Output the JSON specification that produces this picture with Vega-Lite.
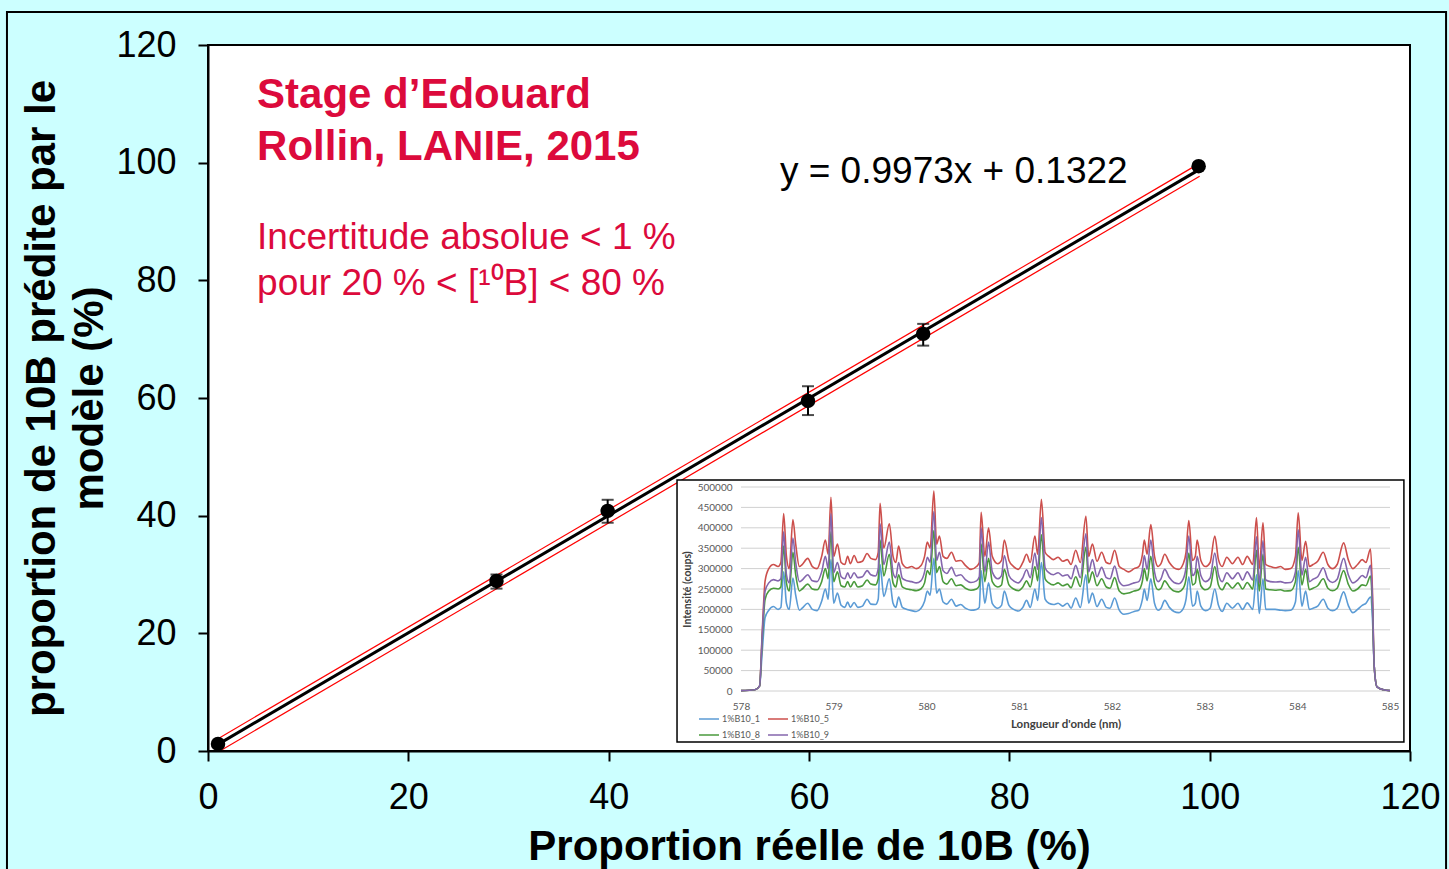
{
"$schema": "https://vega.github.io/schema/vega-lite/v6.json",
"width": 1202, "height": 706,
"autosize": {"type": "none"},
"padding": {"left": 208, "top": 45, "right": 39, "bottom": 118},
"background": "#ccffff",
"config": {"view": {"fill": "white", "stroke": "black", "strokeWidth": 2}, "font": "Liberation Sans"},
"datasets": {
"one": [{"k": 1}],
"pts": [{"x":1,"y":1.2},{"x":28.8,"y":28.9},{"x":39.9,"y":40.8},{"x":59.9,"y":59.5},{"x":71.4,"y":70.9},{"x":98.9,"y":99.4}],
"err": [{"x":28.8,"lo":27.6,"hi":30.0},{"x":39.9,"lo":38.8,"hi":42.7},{"x":59.9,"lo":57.1,"hi":62.0},{"x":71.4,"lo":68.9,"hi":72.6}],
"fit": [{"x":1,"y":1.13},{"x":99,"y":98.86}],
"bands": [{"band":"hi","x":1.0,"y":2.1},{"band":"hi","x":98.3,"y":99.2},{"band":"lo","x":1.4,"y":0.2},{"band":"lo","x":99.0,"y":97.7}],
"grid": [{"g":0},{"g":50000},{"g":100000},{"g":150000},{"g":200000},{"g":250000},{"g":300000},{"g":350000},{"g":400000},{"g":450000},{"g":500000}],
"spec": [
{"wl":578.00,"b1":1000,"b5":1000,"b8":1000,"b9":1000},
{"wl":578.15,"b1":3000,"b5":3000,"b8":3000,"b9":3000},
{"wl":578.20,"b1":12000,"b5":12000,"b8":12000,"b9":12000},
{"wl":578.23,"b1":100000,"b5":150000,"b8":130000,"b9":140000},
{"wl":578.26,"b1":180000,"b5":270000,"b8":225000,"b9":245000},
{"wl":578.30,"b1":198000,"b5":300000,"b8":245000,"b9":265000},
{"wl":578.35,"b1":207000,"b5":310000,"b8":252000,"b9":273000},
{"wl":578.40,"b1":200000,"b5":305000,"b8":250000,"b9":270000},
{"wl":578.43,"b1":205000,"b5":315000,"b8":255000,"b9":275000},
{"wl":578.46,"b1":292000,"b5":435000,"b8":355000,"b9":390000},
{"wl":578.49,"b1":215000,"b5":330000,"b8":265000,"b9":285000},
{"wl":578.52,"b1":200000,"b5":300000,"b8":245000,"b9":265000},
{"wl":578.56,"b1":277000,"b5":420000,"b8":340000,"b9":375000},
{"wl":578.59,"b1":235000,"b5":360000,"b8":285000,"b9":315000},
{"wl":578.63,"b1":198000,"b5":305000,"b8":245000,"b9":268000},
{"wl":578.66,"b1":203000,"b5":310000,"b8":250000,"b9":272000},
{"wl":578.72,"b1":215000,"b5":325000,"b8":262000,"b9":285000},
{"wl":578.77,"b1":200000,"b5":305000,"b8":250000,"b9":270000},
{"wl":578.82,"b1":197000,"b5":300000,"b8":248000,"b9":268000},
{"wl":578.87,"b1":220000,"b5":330000,"b8":268000,"b9":292000},
{"wl":578.91,"b1":250000,"b5":370000,"b8":300000,"b9":330000},
{"wl":578.94,"b1":225000,"b5":335000,"b8":275000,"b9":300000},
{"wl":578.97,"b1":322000,"b5":475000,"b8":390000,"b9":435000},
{"wl":579.00,"b1":215000,"b5":330000,"b8":268000,"b9":290000},
{"wl":579.04,"b1":240000,"b5":360000,"b8":292000,"b9":315000},
{"wl":579.08,"b1":210000,"b5":315000,"b8":258000,"b9":280000},
{"wl":579.12,"b1":205000,"b5":310000,"b8":255000,"b9":275000},
{"wl":579.15,"b1":218000,"b5":330000,"b8":268000,"b9":290000},
{"wl":579.18,"b1":205000,"b5":312000,"b8":255000,"b9":276000},
{"wl":579.22,"b1":217000,"b5":332000,"b8":268000,"b9":290000},
{"wl":579.26,"b1":205000,"b5":315000,"b8":255000,"b9":278000},
{"wl":579.31,"b1":208000,"b5":318000,"b8":258000,"b9":280000},
{"wl":579.36,"b1":225000,"b5":337000,"b8":272000,"b9":295000},
{"wl":579.40,"b1":213000,"b5":325000,"b8":262000,"b9":285000},
{"wl":579.45,"b1":212000,"b5":322000,"b8":260000,"b9":282000},
{"wl":579.48,"b1":225000,"b5":340000,"b8":275000,"b9":300000},
{"wl":579.50,"b1":310000,"b5":460000,"b8":370000,"b9":410000},
{"wl":579.54,"b1":232000,"b5":350000,"b8":282000,"b9":310000},
{"wl":579.60,"b1":275000,"b5":410000,"b8":335000,"b9":365000},
{"wl":579.64,"b1":215000,"b5":330000,"b8":265000,"b9":290000},
{"wl":579.67,"b1":205000,"b5":315000,"b8":255000,"b9":278000},
{"wl":579.70,"b1":230000,"b5":355000,"b8":285000,"b9":315000},
{"wl":579.74,"b1":205000,"b5":312000,"b8":255000,"b9":276000},
{"wl":579.79,"b1":200000,"b5":302000,"b8":250000,"b9":270000},
{"wl":579.84,"b1":197000,"b5":305000,"b8":248000,"b9":268000},
{"wl":579.89,"b1":195000,"b5":300000,"b8":246000,"b9":265000},
{"wl":579.94,"b1":202000,"b5":307000,"b8":250000,"b9":270000},
{"wl":579.98,"b1":220000,"b5":330000,"b8":265000,"b9":292000},
{"wl":580.01,"b1":245000,"b5":365000,"b8":295000,"b9":328000},
{"wl":580.04,"b1":235000,"b5":350000,"b8":285000,"b9":315000},
{"wl":580.08,"b1":325000,"b5":490000,"b8":393000,"b9":440000},
{"wl":580.11,"b1":240000,"b5":360000,"b8":290000,"b9":320000},
{"wl":580.14,"b1":250000,"b5":380000,"b8":305000,"b9":340000},
{"wl":580.18,"b1":218000,"b5":330000,"b8":268000,"b9":295000},
{"wl":580.22,"b1":213000,"b5":325000,"b8":262000,"b9":288000},
{"wl":580.27,"b1":225000,"b5":340000,"b8":275000,"b9":303000},
{"wl":580.32,"b1":208000,"b5":318000,"b8":258000,"b9":282000},
{"wl":580.37,"b1":212000,"b5":320000,"b8":260000,"b9":285000},
{"wl":580.42,"b1":203000,"b5":308000,"b8":252000,"b9":273000},
{"wl":580.48,"b1":198000,"b5":298000,"b8":247000,"b9":266000},
{"wl":580.54,"b1":200000,"b5":305000,"b8":250000,"b9":270000},
{"wl":580.57,"b1":205000,"b5":315000,"b8":258000,"b9":280000},
{"wl":580.59,"b1":295000,"b5":438000,"b8":360000,"b9":400000},
{"wl":580.63,"b1":215000,"b5":330000,"b8":268000,"b9":292000},
{"wl":580.67,"b1":265000,"b5":400000,"b8":325000,"b9":365000},
{"wl":580.71,"b1":215000,"b5":330000,"b8":268000,"b9":292000},
{"wl":580.77,"b1":203000,"b5":312000,"b8":255000,"b9":275000},
{"wl":580.81,"b1":210000,"b5":320000,"b8":260000,"b9":283000},
{"wl":580.84,"b1":245000,"b5":370000,"b8":298000,"b9":332000},
{"wl":580.89,"b1":210000,"b5":320000,"b8":260000,"b9":283000},
{"wl":580.94,"b1":200000,"b5":305000,"b8":250000,"b9":270000},
{"wl":580.99,"b1":196000,"b5":298000,"b8":246000,"b9":265000},
{"wl":581.04,"b1":205000,"b5":315000,"b8":255000,"b9":278000},
{"wl":581.08,"b1":222000,"b5":335000,"b8":270000,"b9":297000},
{"wl":581.12,"b1":205000,"b5":315000,"b8":255000,"b9":278000},
{"wl":581.17,"b1":250000,"b5":380000,"b8":305000,"b9":338000},
{"wl":581.20,"b1":222000,"b5":335000,"b8":270000,"b9":298000},
{"wl":581.24,"b1":315000,"b5":470000,"b8":383000,"b9":425000},
{"wl":581.28,"b1":225000,"b5":340000,"b8":275000,"b9":302000},
{"wl":581.32,"b1":215000,"b5":330000,"b8":265000,"b9":290000},
{"wl":581.37,"b1":212000,"b5":322000,"b8":260000,"b9":285000},
{"wl":581.42,"b1":215000,"b5":328000,"b8":265000,"b9":290000},
{"wl":581.47,"b1":208000,"b5":318000,"b8":258000,"b9":282000},
{"wl":581.52,"b1":215000,"b5":322000,"b8":262000,"b9":285000},
{"wl":581.56,"b1":203000,"b5":310000,"b8":253000,"b9":275000},
{"wl":581.61,"b1":228000,"b5":345000,"b8":280000,"b9":308000},
{"wl":581.66,"b1":205000,"b5":315000,"b8":256000,"b9":278000},
{"wl":581.72,"b1":285000,"b5":428000,"b8":352000,"b9":385000},
{"wl":581.75,"b1":215000,"b5":330000,"b8":265000,"b9":292000},
{"wl":581.79,"b1":240000,"b5":360000,"b8":292000,"b9":322000},
{"wl":581.84,"b1":207000,"b5":318000,"b8":258000,"b9":280000},
{"wl":581.89,"b1":225000,"b5":340000,"b8":275000,"b9":303000},
{"wl":581.94,"b1":205000,"b5":315000,"b8":255000,"b9":278000},
{"wl":581.98,"b1":203000,"b5":312000,"b8":252000,"b9":275000},
{"wl":582.03,"b1":228000,"b5":345000,"b8":278000,"b9":306000},
{"wl":582.08,"b1":198000,"b5":305000,"b8":245000,"b9":268000},
{"wl":582.13,"b1":188000,"b5":298000,"b8":238000,"b9":258000},
{"wl":582.18,"b1":190000,"b5":292000,"b8":240000,"b9":260000},
{"wl":582.24,"b1":195000,"b5":300000,"b8":245000,"b9":265000},
{"wl":582.29,"b1":198000,"b5":305000,"b8":248000,"b9":268000},
{"wl":582.33,"b1":225000,"b5":335000,"b8":270000,"b9":298000},
{"wl":582.35,"b1":250000,"b5":370000,"b8":300000,"b9":332000},
{"wl":582.38,"b1":222000,"b5":335000,"b8":270000,"b9":298000},
{"wl":582.42,"b1":275000,"b5":408000,"b8":330000,"b9":370000},
{"wl":582.46,"b1":215000,"b5":330000,"b8":265000,"b9":292000},
{"wl":582.50,"b1":198000,"b5":305000,"b8":248000,"b9":268000},
{"wl":582.53,"b1":203000,"b5":312000,"b8":252000,"b9":275000},
{"wl":582.57,"b1":222000,"b5":335000,"b8":270000,"b9":298000},
{"wl":582.62,"b1":205000,"b5":315000,"b8":255000,"b9":278000},
{"wl":582.67,"b1":195000,"b5":302000,"b8":245000,"b9":266000},
{"wl":582.72,"b1":192000,"b5":298000,"b8":243000,"b9":263000},
{"wl":582.77,"b1":202000,"b5":312000,"b8":252000,"b9":275000},
{"wl":582.80,"b1":225000,"b5":340000,"b8":275000,"b9":303000},
{"wl":582.83,"b1":280000,"b5":418000,"b8":338000,"b9":380000},
{"wl":582.87,"b1":208000,"b5":320000,"b8":260000,"b9":283000},
{"wl":582.90,"b1":215000,"b5":330000,"b8":265000,"b9":292000},
{"wl":582.92,"b1":245000,"b5":370000,"b8":298000,"b9":330000},
{"wl":582.96,"b1":208000,"b5":320000,"b8":258000,"b9":283000},
{"wl":583.01,"b1":197000,"b5":305000,"b8":248000,"b9":268000},
{"wl":583.06,"b1":203000,"b5":315000,"b8":255000,"b9":277000},
{"wl":583.11,"b1":250000,"b5":380000,"b8":305000,"b9":338000},
{"wl":583.15,"b1":210000,"b5":322000,"b8":260000,"b9":285000},
{"wl":583.19,"b1":195000,"b5":305000,"b8":248000,"b9":268000},
{"wl":583.24,"b1":215000,"b5":328000,"b8":265000,"b9":290000},
{"wl":583.30,"b1":203000,"b5":312000,"b8":252000,"b9":275000},
{"wl":583.36,"b1":215000,"b5":328000,"b8":265000,"b9":290000},
{"wl":583.41,"b1":200000,"b5":310000,"b8":250000,"b9":272000},
{"wl":583.46,"b1":216000,"b5":330000,"b8":266000,"b9":292000},
{"wl":583.52,"b1":200000,"b5":310000,"b8":250000,"b9":272000},
{"wl":583.56,"b1":285000,"b5":425000,"b8":345000,"b9":378000},
{"wl":583.59,"b1":190000,"b5":300000,"b8":245000,"b9":265000},
{"wl":583.63,"b1":275000,"b5":412000,"b8":335000,"b9":368000},
{"wl":583.66,"b1":200000,"b5":310000,"b8":250000,"b9":272000},
{"wl":583.71,"b1":200000,"b5":305000,"b8":248000,"b9":268000},
{"wl":583.76,"b1":200000,"b5":302000,"b8":247000,"b9":267000},
{"wl":583.82,"b1":198000,"b5":305000,"b8":248000,"b9":268000},
{"wl":583.87,"b1":197000,"b5":298000,"b8":245000,"b9":265000},
{"wl":583.93,"b1":198000,"b5":300000,"b8":246000,"b9":266000},
{"wl":583.98,"b1":218000,"b5":330000,"b8":268000,"b9":292000},
{"wl":584.01,"b1":295000,"b5":437000,"b8":352000,"b9":395000},
{"wl":584.05,"b1":208000,"b5":320000,"b8":260000,"b9":284000},
{"wl":584.09,"b1":245000,"b5":367000,"b8":298000,"b9":328000},
{"wl":584.13,"b1":200000,"b5":305000,"b8":248000,"b9":268000},
{"wl":584.17,"b1":203000,"b5":310000,"b8":252000,"b9":274000},
{"wl":584.22,"b1":208000,"b5":318000,"b8":258000,"b9":280000},
{"wl":584.28,"b1":225000,"b5":340000,"b8":275000,"b9":302000},
{"wl":584.33,"b1":203000,"b5":310000,"b8":252000,"b9":274000},
{"wl":584.38,"b1":197000,"b5":300000,"b8":246000,"b9":266000},
{"wl":584.43,"b1":203000,"b5":310000,"b8":252000,"b9":274000},
{"wl":584.50,"b1":243000,"b5":363000,"b8":295000,"b9":325000},
{"wl":584.55,"b1":210000,"b5":322000,"b8":262000,"b9":285000},
{"wl":584.60,"b1":192000,"b5":300000,"b8":245000,"b9":265000},
{"wl":584.65,"b1":200000,"b5":310000,"b8":250000,"b9":272000},
{"wl":584.70,"b1":210000,"b5":322000,"b8":260000,"b9":283000},
{"wl":584.74,"b1":215000,"b5":315000,"b8":258000,"b9":278000},
{"wl":584.79,"b1":230000,"b5":348000,"b8":282000,"b9":308000},
{"wl":584.81,"b1":180000,"b5":250000,"b8":210000,"b9":230000},
{"wl":584.83,"b1":60000,"b5":60000,"b8":60000,"b9":60000},
{"wl":584.86,"b1":10000,"b5":10000,"b8":10000,"b9":10000},
{"wl":584.93,"b1":3000,"b5":3000,"b8":3000,"b9":3000},
{"wl":585.00,"b1":1000,"b5":1000,"b8":1000,"b9":1000}
]
},
"layer": [
{"layer": [
 {"data": {"name": "bands"},
  "mark": {"type": "line", "color": "#ff0000", "strokeWidth": 1.2},
  "encoding": {
   "x": {"field": "x", "type": "quantitative", "scale": {"domain": [0, 120], "nice": false},
    "title": "Proportion réelle de 10B (%)",
    "axis": {"values": [0,20,40,60,80,100,120], "grid": false,
     "domainColor": "black", "domainWidth": 2, "tickColor": "black", "tickWidth": 2, "tickSize": 10,
     "labelFontSize": 36, "labelColor": "black", "labelPadding": 19, "labelFlush": false, "labelOverlap": false,
     "titleFontSize": 42, "titleFontWeight": "bold", "titleColor": "black", "titlePadding": 11}},
   "y": {"field": "y", "type": "quantitative", "scale": {"domain": [0, 120], "nice": false},
    "title": ["proportion de 10B prédite par le", "modèle (%)"],
    "axis": {"values": [0,20,40,60,80,100,120], "grid": false,
     "domainColor": "black", "domainWidth": 2, "tickColor": "black", "tickWidth": 2, "tickSize": 10,
     "labelFontSize": 36, "labelColor": "black", "labelPadding": 22, "labelFlush": false, "labelOverlap": false,
     "titleFontSize": 42, "titleFontWeight": "bold", "titleColor": "black", "titlePadding": 4, "titleLineHeight": 48}},
   "detail": {"field": "band"}
  }},
 {"data": {"name": "fit"},
  "mark": {"type": "line", "color": "black", "strokeWidth": 3},
  "encoding": {
   "x": {"field": "x", "type": "quantitative", "scale": {"domain": [0, 120], "nice": false}, "title": "Proportion réelle de 10B (%)"},
   "y": {"field": "y", "type": "quantitative", "scale": {"domain": [0, 120], "nice": false}, "title": ["proportion de 10B prédite par le", "modèle (%)"]}
  }},
 {"data": {"name": "err"},
  "mark": {"type": "errorbar", "color": "black", "thickness": 2, "size": 12, "ticks": true},
  "encoding": {
   "x": {"field": "x", "type": "quantitative", "scale": {"domain": [0, 120], "nice": false}, "title": "Proportion réelle de 10B (%)"},
   "y": {"field": "lo", "type": "quantitative", "scale": {"domain": [0, 120], "nice": false}, "title": ["proportion de 10B prédite par le", "modèle (%)"]},
   "y2": {"field": "hi"}
  }},
 {"data": {"name": "pts"},
  "mark": {"type": "circle", "color": "black", "opacity": 1, "size": 210},
  "encoding": {
   "x": {"field": "x", "type": "quantitative", "scale": {"domain": [0, 120], "nice": false}, "title": "Proportion réelle de 10B (%)"},
   "y": {"field": "y", "type": "quantitative", "scale": {"domain": [0, 120], "nice": false}, "title": ["proportion de 10B prédite par le", "modèle (%)"]}
  }},
 {"data": {"name": "one"},
  "mark": {"type": "text", "align": "left", "baseline": "alphabetic", "fontSize": 42, "fontWeight": "bold", "color": "#dc0a3c", "lineHeight": 52,
   "text": ["Stage d’Edouard", "Rollin, LANIE, 2015"]},
  "encoding": {
   "x": {"datum": 4.9, "type": "quantitative", "scale": {"domain": [0, 120], "nice": false}, "title": "Proportion réelle de 10B (%)"},
   "y": {"datum": 109.3, "type": "quantitative", "scale": {"domain": [0, 120], "nice": false}, "title": ["proportion de 10B prédite par le", "modèle (%)"]}
  }},
 {"data": {"name": "one"},
  "mark": {"type": "text", "align": "left", "baseline": "alphabetic", "fontSize": 37, "color": "#dc0a3c", "lineHeight": 46,
   "text": ["Incertitude absolue < 1 %", "pour 20 % < [¹⁰B] < 80 %"]},
  "encoding": {
   "x": {"datum": 4.9, "type": "quantitative", "scale": {"domain": [0, 120], "nice": false}, "title": "Proportion réelle de 10B (%)"},
   "y": {"datum": 85.3, "type": "quantitative", "scale": {"domain": [0, 120], "nice": false}, "title": ["proportion de 10B prédite par le", "modèle (%)"]}
  }},
 {"data": {"name": "one"},
  "mark": {"type": "text", "align": "left", "baseline": "alphabetic", "fontSize": 37, "color": "black",
   "text": "y = 0.9973x + 0.1322"},
  "encoding": {
   "x": {"datum": 57.1, "type": "quantitative", "scale": {"domain": [0, 120], "nice": false}, "title": "Proportion réelle de 10B (%)"},
   "y": {"datum": 96.55, "type": "quantitative", "scale": {"domain": [0, 120], "nice": false}, "title": ["proportion de 10B prédite par le", "modèle (%)"]}
  }},
 {"data": {"name": "one"},
  "mark": {"type": "rect", "fill": "transparent", "stroke": "black", "strokeWidth": 2},
  "encoding": {
   "x": {"datum": -20.07, "type": "quantitative", "scale": {"domain": [0, 120], "nice": false}, "title": "Proportion réelle de 10B (%)"},
   "x2": {"datum": 123.6},
   "y": {"datum": 125.6, "type": "quantitative", "scale": {"domain": [0, 120], "nice": false}, "title": ["proportion de 10B prédite par le", "modèle (%)"]},
   "y2": {"datum": -25.3}
  }}
]},
{"layer": [
 {"data": {"name": "one"},
  "mark": {"type": "rect", "fill": "white", "stroke": "black", "strokeWidth": 1.5},
  "encoding": {
   "x": {"datum": 577.31, "type": "quantitative", "scale": {"domain": [578, 585], "range": [533, 1182], "nice": false, "zero": false},
    "title": "Longueur d'onde (nm)",
    "axis": {"orient": "bottom", "offset": -60, "values": [578,579,580,581,582,583,584,585], "format": "d", "domain": false, "ticks": false, "grid": false,
     "labelFont": "Lato", "labelFontSize": 10, "labelColor": "#595959", "labelPadding": 10, "labelFlush": false,
     "titleFont": "Lato", "titleFontSize": 11.5, "titleFontWeight": "bold", "titleColor": "#404040", "titlePadding": 7, "zindex": 1}},
   "x2": {"datum": 585.15},
   "y": {"datum": 517000, "type": "quantitative", "scale": {"domain": [0, 500000], "range": [646, 442], "nice": false},
    "title": "Intensité (coups)",
    "axis": {"orient": "left", "offset": -533, "values": [0,50000,100000,150000,200000,250000,300000,350000,400000,450000,500000], "format": "d", "domain": false, "ticks": false, "grid": false,
     "labelFont": "Lato", "labelFontSize": 10, "labelColor": "#595959", "labelPadding": 9, "labelFlush": false, "labelOverlap": false,
     "titleFont": "Lato", "titleFontSize": 10.5, "titleFontWeight": "bold", "titleColor": "#404040", "titlePadding": 5, "zindex": 1}},
   "y2": {"datum": -125000}
  }},
 {"data": {"name": "grid"},
  "mark": {"type": "rule", "color": "#d0d0d0", "strokeWidth": 1},
  "encoding": {
   "x": {"datum": 578, "type": "quantitative", "scale": {"domain": [578, 585], "range": [533, 1182], "nice": false, "zero": false}, "title": "Longueur d'onde (nm)"},
   "x2": {"datum": 585},
   "y": {"field": "g", "type": "quantitative", "scale": {"domain": [0, 500000], "range": [646, 442], "nice": false}, "title": "Intensité (coups)"}
  }},
 {"data": {"name": "spec"},
  "transform": [{"fold": ["b1", "b5", "b8", "b9"], "as": ["serie", "val"]}],
  "mark": {"type": "line", "strokeWidth": 1.6, "interpolate": "monotone"},
  "encoding": {
   "x": {"field": "wl", "type": "quantitative", "scale": {"domain": [578, 585], "range": [533, 1182], "nice": false, "zero": false}, "title": "Longueur d'onde (nm)"},
   "y": {"field": "val", "type": "quantitative", "scale": {"domain": [0, 500000], "range": [646, 442], "nice": false}, "title": "Intensité (coups)"},
   "color": {"field": "serie", "type": "nominal",
    "scale": {"domain": ["b1", "b5", "b8", "b9"], "range": ["#5b9bd5", "#cc4f4c", "#4a9a3c", "#8466ad"]},
    "legend": {"orient": "none", "legendX": 490, "legendY": 663, "columns": 2, "direction": "horizontal", "title": null, "padding": 0,
     "symbolType": "stroke", "symbolSize": 400, "symbolStrokeWidth": 1.5,
     "labelFont": "Lato", "labelFontSize": 9, "labelColor": "#595959", "labelOffset": 2, "columnPadding": 4, "rowPadding": -6,
     "labelExpr": "'1%B10_' + slice(datum.label, 1)"}}
  }}
]}
],
"resolve": {"scale": {"x": "independent", "y": "independent", "color": "independent"}, "axis": {"x": "independent", "y": "independent"}}
}
